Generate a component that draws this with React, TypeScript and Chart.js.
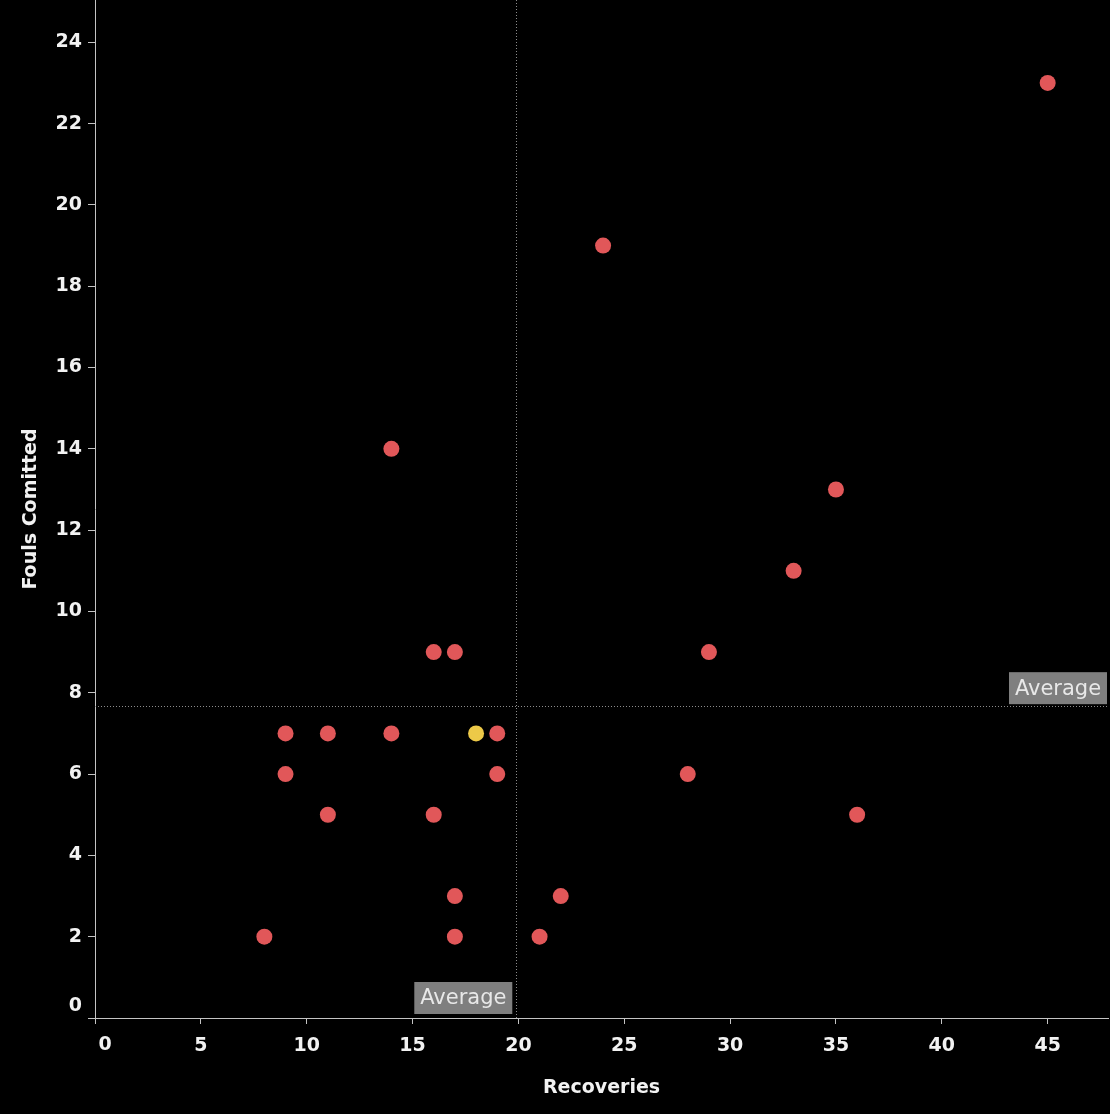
import React, { useEffect, useRef } from "react";
import { Chart, registerables } from "chart.js";

Chart.register(...registerables);

// Data
const recoveries = [45, 24, 14, 35, 33, 16, 17, 29, 9, 11, 14, 19, 9, 19, 28, 11, 16, 36, 17, 22, 8, 17, 21];
const fouls = [23, 19, 14, 13, 11, 9, 9, 9, 7, 7, 7, 7, 6, 6, 6, 5, 5, 5, 3, 3, 2, 2, 2];
const highlightRecoveries = [18];
const highlightFouls = [7];

const averageRecoveries = 19.9;
const averageFouls = 7.67;
const averageLabel = "Average";

const xTitle = "Recoveries";
const yTitle = "Fouls Comitted";

const xTicks = [0, 5, 10, 15, 20, 25, 30, 35, 40, 45];
const yTicks = [0, 2, 4, 6, 8, 10, 12, 14, 16, 18, 20, 22, 24];
const xMin = 0;
const xMax = 47.85;
const yMin = 0;
const yMax = 25.04;

const RED = "#e15759";
const YELLOW = "#edc948";
const TEXT = "#f2f2f2";
const AXIS = "#c4c4c4";
const FONT_FAMILY = "'DejaVu Sans'";
const X_TICK_PADDING = 11;

const averagePlugin = {
  id: "averageLines",
  beforeDatasetsDraw(chart: any) {
    const { ctx, chartArea, scales } = chart;
    const x = Math.round(scales.x.getPixelForValue(averageRecoveries)) + 0.5;
    const y = Math.round(scales.y.getPixelForValue(averageFouls)) + 0.5;
    ctx.save();
    ctx.strokeStyle = "#8c8c8c";
    ctx.lineWidth = 1;
    ctx.setLineDash([1, 2]);
    ctx.beginPath();
    ctx.moveTo(x, chartArea.top);
    ctx.lineTo(x, chartArea.bottom);
    ctx.moveTo(chartArea.left, y);
    ctx.lineTo(chartArea.right, y);
    ctx.stroke();
    ctx.restore();
  },
  afterDatasetsDraw(chart: any) {
    const { ctx, chartArea, scales } = chart;
    const x = scales.x.getPixelForValue(averageRecoveries);
    const y = scales.y.getPixelForValue(averageFouls);
    const w = 98;
    const h = 32;
    ctx.save();
    ctx.font = `21px ${FONT_FAMILY}`;
    ctx.textAlign = "center";
    ctx.textBaseline = "middle";
    const drawBox = (left: number, top: number) => {
      ctx.fillStyle = "#7f7f7f";
      ctx.fillRect(left, top, w, h);
      ctx.fillStyle = "#e8e8e8";
      ctx.fillText(averageLabel, left + w / 2, top + h / 2 + 1);
    };
    // label of vertical average line: bottom, left of the line
    drawBox(x - 4 - w, chartArea.bottom - 4 - h);
    // label of horizontal average line: right, above the line
    drawBox(chartArea.right - 1 - w, y - 2 - h);

    // the two "0" labels, nudged inside like the reference
    ctx.font = `bold 19px ${FONT_FAMILY}`;
    ctx.fillStyle = TEXT;
    ctx.textAlign = "right";
    ctx.textBaseline = "middle";
    ctx.fillText(String(yTicks[0]), scales.y.right - 7 - 6, scales.y.getPixelForValue(yTicks[0]) - 12);
    ctx.textAlign = "center";
    ctx.fillText(String(xTicks[0]), scales.x.getPixelForValue(xTicks[0]) + 10, scales.x.top + 6 + X_TICK_PADDING + 10);
    ctx.restore();
  },
};

export default function App() {
  const canvasRef = useRef<HTMLCanvasElement | null>(null);

  useEffect(() => {
    document.body.style.margin = "0";
    document.body.style.background = "#000";
    const canvas = canvasRef.current;
    if (!canvas) return;
    const tickFont = { family: FONT_FAMILY, size: 19, weight: "bold" as const };
    const tickColor = (c: any) => (c.tick && c.tick.value === 0 ? "rgba(0,0,0,0)" : TEXT);
    const chart = new Chart(canvas, {
      type: "scatter",
      data: {
        datasets: [
          {
            label: "Players",
            data: recoveries.map((r, i) => ({ x: r, y: fouls[i] })),
            backgroundColor: RED,
            borderColor: RED,
            borderWidth: 0,
            pointRadius: 8,
            pointHoverRadius: 8,
          },
          {
            label: "Highlighted",
            data: highlightRecoveries.map((r, i) => ({ x: r, y: highlightFouls[i] })),
            backgroundColor: YELLOW,
            borderColor: YELLOW,
            borderWidth: 0,
            pointRadius: 8,
            pointHoverRadius: 8,
          },
        ],
      },
      options: {
        animation: false,
        responsive: false,
        maintainAspectRatio: false,
        layout: { autoPadding: false, padding: { top: 0, right: 2, bottom: 0, left: 0 } },
        plugins: {
          legend: { display: false },
          tooltip: { enabled: false },
        },
        scales: {
          x: {
            type: "linear",
            min: xMin,
            max: xMax,
            ticks: {
              color: tickColor,
              font: tickFont,
              padding: X_TICK_PADDING,
              maxRotation: 0,
              autoSkip: false,
            },
            afterBuildTicks: (scale: any) => {
              scale.ticks = xTicks.map((v) => ({ value: v }));
            },
            afterFit: (scale: any) => {
              scale.height = 96;
              scale.paddingLeft = 0;
              scale.paddingRight = 0;
            },
            grid: {
              display: true,
              drawOnChartArea: false,
              drawTicks: true,
              tickLength: 6,
              color: AXIS,
            },
            border: { display: true, color: AXIS, width: 1 },
            title: {
              display: true,
              text: xTitle,
              color: TEXT,
              font: tickFont,
              padding: { top: 0, bottom: 14.6 },
            },
          },
          y: {
            type: "linear",
            min: yMin,
            max: yMax,
            ticks: {
              color: tickColor,
              font: tickFont,
              padding: 6,
              autoSkip: false,
            },
            afterBuildTicks: (scale: any) => {
              scale.ticks = yTicks.map((v) => ({ value: v }));
            },
            afterFit: (scale: any) => {
              scale.width = 95;
              scale.paddingTop = 0;
              scale.paddingBottom = 0;
            },
            grid: {
              display: true,
              drawOnChartArea: false,
              drawTicks: true,
              tickLength: 7,
              color: AXIS,
            },
            border: { display: true, color: AXIS, width: 1 },
            title: {
              display: true,
              text: yTitle,
              color: TEXT,
              font: tickFont,
              padding: { top: 19.6, bottom: 0 },
            },
          },
        },
      },
      plugins: [averagePlugin],
    });
    return () => chart.destroy();
  }, []);

  return (
    <div style={{ width: 1110, height: 1114, background: "#000" }}>
      <canvas ref={canvasRef} width={1110} height={1114} style={{ width: 1110, height: 1114, display: "block" }} />
    </div>
  );
}
